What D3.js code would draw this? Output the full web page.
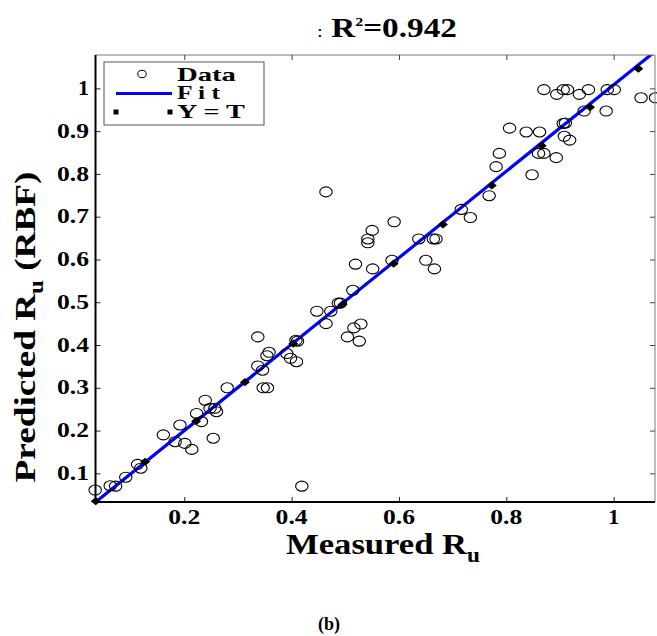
<!DOCTYPE html>
<html>
<head>
<meta charset="utf-8">
<script src="https://cdn.jsdelivr.net/npm/d3@7"></script>
<style>
  html, body { margin: 0; padding: 0; background: #fff; }
  svg { display: block; }
</style>
</head>
<body>
<svg id="chart" width="657" height="636"></svg>
<script>
// ---------------- DATA ----------------
const measured = [
  0.034, 0.062, 0.072, 0.091, 0.113, 0.119, 0.161, 0.183, 0.201, 0.214,
  0.192, 0.223, 0.232, 0.239, 0.248, 0.257, 0.260, 0.254, 0.280, 0.337,
  0.346, 0.347, 0.355, 0.354, 0.358, 0.337, 0.391, 0.398, 0.409, 0.408,
  0.411, 0.419, 0.447, 0.473, 0.464, 0.487, 0.491, 0.504, 0.516, 0.529,
  0.526, 0.514, 0.519, 0.551, 0.542, 0.542, 0.550, 0.591, 0.587, 0.637,
  0.650, 0.664, 0.669, 0.666, 0.464, 0.716, 0.733, 0.768, 0.781, 0.787,
  0.848, 0.806, 0.837, 0.862, 0.860, 0.870, 0.893, 0.906, 0.910, 0.908,
  0.918, 0.870, 0.894, 0.906, 0.914, 0.936, 0.953, 0.945, 0.986, 0.988,
  1.001, 1.051, 1.078
];
const predicted = [
  0.061, 0.071, 0.070, 0.091, 0.121, 0.112, 0.190, 0.174, 0.170, 0.156,
  0.213, 0.240, 0.221, 0.271, 0.252, 0.252, 0.244, 0.182, 0.300, 0.351,
  0.341, 0.300, 0.300, 0.375, 0.383, 0.419, 0.380, 0.369, 0.361, 0.411,
  0.409, 0.070, 0.479, 0.479, 0.450, 0.498, 0.498, 0.419, 0.440, 0.449,
  0.409, 0.528, 0.589, 0.578, 0.648, 0.639, 0.668, 0.688, 0.598, 0.648,
  0.598, 0.648, 0.648, 0.578, 0.758, 0.717, 0.698, 0.749, 0.817, 0.848,
  0.798, 0.907, 0.898, 0.898, 0.848, 0.848, 0.838, 0.918, 0.919, 0.888,
  0.879, 0.997, 0.986, 0.997, 0.997, 0.986, 0.997, 0.947, 0.947, 0.997,
  0.997, 0.978, 0.978
];
// Y = T reference markers (target line)
const ytX = [0.035, 0.127, 0.222, 0.313, 0.403, 0.495, 0.590, 0.682, 0.773, 0.866, 0.956, 1.046];
// Linear fit: intercept, slope (R^2 = 0.942)
const fitCoef = [-0.0024, 1.0107];
const fitRange = [0.034, 1.078];
const xDomain = [0.0346, 1.077];
const yDomain = [0.033, 1.078];
const xTicks = [0.2, 0.4, 0.6, 0.8, 1];
const yTicks = [0.1, 0.2, 0.3, 0.4, 0.5, 0.6, 0.7, 0.8, 0.9, 1];
const legendLabels = ["Data", "F i t", "Y = T"];
const titleText = ["R", "2", "=0.942"];
const xLabel = ["Measured R", "u"];
const yLabel = ["Predicted R", "u", " (RBF)"];
const panelLabel = "(b)";

// ---------------- LAYOUT ----------------
const FONT = "'Liberation Serif', 'Times New Roman', Times, serif";
const L = 95.5, R = 655, T = 55, B = 502;
const svg = d3.select("#chart");
const x = d3.scaleLinear().domain(xDomain).range([L, R]);
const y = d3.scaleLinear().domain(yDomain).range([B, T]);

svg.append("defs").append("clipPath").attr("id", "plotclip")
  .append("rect").attr("x", L).attr("y", T).attr("width", R - L).attr("height", B - T);

// text helper: builds text then stretches along baseline to a target width
function addText(parent, opt) {
  const g = parent.append("g");
  const inner = g.append("g");
  const t = inner.append("text")
    .attr("text-anchor", opt.anchor || "middle")
    .attr("font-family", FONT)
    .attr("font-size", opt.size)
    .attr("font-weight", opt.weight || "bold")
    .attr("fill", "#000");
  (opt.parts).forEach(p => {
    const ts = t.append("tspan").text(p.t);
    if (p.size) ts.attr("font-size", p.size);
    if (p.dy) ts.attr("dy", p.dy);
    if (p.weight) ts.attr("font-weight", p.weight);
  });
  let sx = opt.sx || 1;
  if (opt.width) {
    const w = t.node().getBBox().width;
    if (w > 0) sx = opt.width / w;
  }
  g.attr("transform", `translate(${opt.x},${opt.y}) rotate(${opt.rotate || 0})`);
  inner.attr("transform", `scale(${sx},1)`);
  return g;
}

// ---------------- AXES ----------------
const axesG = svg.append("g");
axesG.append("line").attr("x1", L).attr("x2", R).attr("y1", T).attr("y2", T)
  .attr("stroke", "#777").attr("stroke-width", 1);
axesG.append("line").attr("x1", R).attr("x2", R).attr("y1", T).attr("y2", B)
  .attr("stroke", "#777").attr("stroke-width", 1);

const axBottom = d3.axisBottom(x).tickValues(xTicks).tickSize(-5).tickFormat("");
const axTop = d3.axisTop(x).tickValues(xTicks).tickSize(-5).tickFormat("");
const axLeft = d3.axisLeft(y).tickValues(yTicks).tickSize(-5).tickFormat("");
const axRight = d3.axisRight(y).tickValues(yTicks).tickSize(-5).tickFormat("");
function styleAxis(g, col) {
  g.select(".domain").remove();
  g.selectAll(".tick line").attr("stroke", col).attr("stroke-width", 1);
}
axesG.append("g").attr("transform", `translate(0,${B})`).call(axBottom).call(g => styleAxis(g, "#222"));
axesG.append("g").attr("transform", `translate(0,${T})`).call(axTop).call(g => styleAxis(g, "#444"));
axesG.append("g").attr("transform", `translate(${L},0)`).call(axLeft).call(g => styleAxis(g, "#222"));
axesG.append("g").attr("transform", `translate(${R},0)`).call(axRight).call(g => styleAxis(g, "#444"));

const fmt = d3.format("~g");
xTicks.forEach(v => {
  const s = fmt(v);
  addText(svg, { x: x(v), y: 524, size: 20, width: s.length === 1 ? 11 : 32, parts: [{ t: s }] });
});
yTicks.forEach(v => {
  const s = fmt(v);
  addText(svg, { x: 89, y: y(v) + 6.7, size: 20, anchor: "end", width: s.length === 1 ? 11 : 32, parts: [{ t: s }] });
});

// ---------------- MARKS ----------------
const plot = svg.append("g").attr("clip-path", "url(#plotclip)");
const data = measured.map((m, i) => ({ m, p: predicted[i] }));

svg.append("g").selectAll("ellipse").data(data).join("ellipse")
  .attr("cx", d => x(d.m)).attr("cy", d => y(d.p))
  .attr("rx", 6.2).attr("ry", 5)
  .attr("fill", "none").attr("stroke", "#000").attr("stroke-width", 1.1);

const fitLine = d3.line().x(d => x(d)).y(d => y(fitCoef[0] + fitCoef[1] * d));
plot.append("path").datum(fitRange).attr("d", fitLine)
  .attr("stroke", "#0000ff").attr("stroke-width", 3.2).attr("fill", "none");

const diamond = d3.symbol().type(d3.symbolSquare).size(34);
svg.append("g").selectAll("path").data(ytX).join("path")
  .attr("d", diamond)
  .attr("transform", d => `translate(${x(d)},${y(d)}) scale(1.2,1) rotate(45)`)
  .attr("fill", "#000");

axesG.raise();
svg.append("line").attr("x1", L).attr("x2", L).attr("y1", T).attr("y2", B + 1)
  .attr("stroke", "#000").attr("stroke-width", 2);
svg.append("line").attr("x1", L - 1).attr("x2", R).attr("y1", B).attr("y2", B)
  .attr("stroke", "#000").attr("stroke-width", 2.2);

// ---------------- LEGEND ----------------
const lg = svg.append("g");
lg.append("rect").attr("x", 104).attr("y", 62).attr("width", 160).attr("height", 63)
  .attr("fill", "#fff").attr("stroke", "#555").attr("stroke-width", 1);
lg.append("ellipse").attr("cx", 142).attr("cy", 74).attr("rx", 4.2).attr("ry", 3.7)
  .attr("fill", "none").attr("stroke", "#000").attr("stroke-width", 1);
lg.append("line").attr("x1", 116).attr("x2", 172).attr("y1", 93.5).attr("y2", 93.5)
  .attr("stroke", "#0000ff").attr("stroke-width", 3);
[116, 170].forEach(px => {
  lg.append("rect").attr("x", px - 2.5).attr("y", 112 - 2.5).attr("width", 5).attr("height", 5).attr("fill", "#000");
});
const legendY = [80.5, 99, 118];
const legendW = [59, 43, 68];
legendLabels.forEach((s, i) => {
  addText(lg, { x: 177, y: legendY[i], size: 18, anchor: "start",
    width: legendW[i], parts: [{ t: s }] });
});

// ---------------- TITLES ----------------
addText(svg, { x: 317, y: 37, size: 27, anchor: "start", width: 140, parts: [
  { t: ":", weight: "normal", size: 17 },
  { t: " " + titleText[0] },
  { t: titleText[1], size: 13, dy: -11 },
  { t: titleText[2], dy: 11 }
]});
addText(svg, { x: 383, y: 554, size: 30, width: 194, parts: [
  { t: xLabel[0] },
  { t: xLabel[1], size: 20, dy: 8 }
]});
addText(svg, { x: 35, y: 327, size: 30, rotate: -90, width: 311, parts: [
  { t: yLabel[0] },
  { t: yLabel[1], size: 20, dy: 8 },
  { t: yLabel[2], dy: -8 }
]});
addText(svg, { x: 329, y: 630, size: 18, width: 22, parts: [{ t: panelLabel }] });
</script>
</body>
</html>
